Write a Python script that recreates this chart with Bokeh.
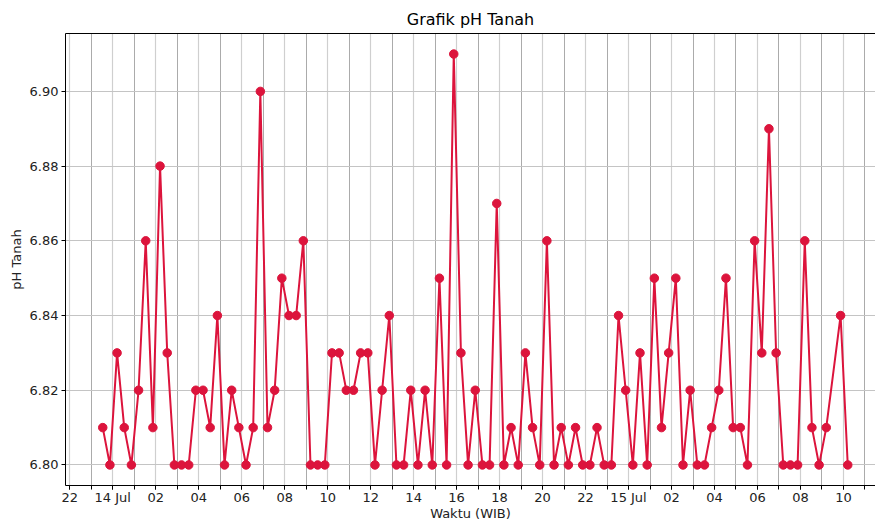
import pandas as pd
from bokeh.plotting import figure
from bokeh.models import Range1d, FixedTicker, CustomJSTickFormatter, LinearAxis, NumeralTickFormatter
from bokeh.embed import file_html
from bokeh.resources import INLINE

# ---- data (timestamps WIB, 20-minute sampling) ----
times = [
    "2024-07-13 23:32", "2024-07-13 23:52",
    "2024-07-14 00:12", "2024-07-14 00:32", "2024-07-14 00:52",
    "2024-07-14 01:12", "2024-07-14 01:32", "2024-07-14 01:52",
    "2024-07-14 02:12", "2024-07-14 02:32", "2024-07-14 02:52",
    "2024-07-14 03:12", "2024-07-14 03:32", "2024-07-14 03:52",
    "2024-07-14 04:12", "2024-07-14 04:32", "2024-07-14 04:52",
    "2024-07-14 05:12", "2024-07-14 05:32", "2024-07-14 05:52",
    "2024-07-14 06:12", "2024-07-14 06:32", "2024-07-14 06:52",
    "2024-07-14 07:12", "2024-07-14 07:32", "2024-07-14 07:52",
    "2024-07-14 08:12", "2024-07-14 08:32", "2024-07-14 08:52",
    "2024-07-14 09:12", "2024-07-14 09:32", "2024-07-14 09:52",
    "2024-07-14 10:12", "2024-07-14 10:32", "2024-07-14 10:52",
    "2024-07-14 11:12", "2024-07-14 11:32", "2024-07-14 11:52",
    "2024-07-14 12:12", "2024-07-14 12:32", "2024-07-14 12:52",
    "2024-07-14 13:12", "2024-07-14 13:32", "2024-07-14 13:52",
    "2024-07-14 14:12", "2024-07-14 14:32", "2024-07-14 14:52",
    "2024-07-14 15:12", "2024-07-14 15:32", "2024-07-14 15:52",
    "2024-07-14 16:12", "2024-07-14 16:32", "2024-07-14 16:52",
    "2024-07-14 17:12", "2024-07-14 17:32", "2024-07-14 17:52",
    "2024-07-14 18:12", "2024-07-14 18:32", "2024-07-14 18:52",
    "2024-07-14 19:12", "2024-07-14 19:32", "2024-07-14 19:52",
    "2024-07-14 20:12", "2024-07-14 20:32", "2024-07-14 20:52",
    "2024-07-14 21:12", "2024-07-14 21:32", "2024-07-14 21:52",
    "2024-07-14 22:12", "2024-07-14 22:32", "2024-07-14 22:52",
    "2024-07-14 23:12", "2024-07-14 23:32", "2024-07-14 23:52",
    "2024-07-15 00:12", "2024-07-15 00:32", "2024-07-15 00:52",
    "2024-07-15 01:12", "2024-07-15 01:32", "2024-07-15 01:52",
    "2024-07-15 02:12", "2024-07-15 02:32", "2024-07-15 02:52",
    "2024-07-15 03:12", "2024-07-15 03:32", "2024-07-15 03:52",
    "2024-07-15 04:12", "2024-07-15 04:32", "2024-07-15 04:52",
    "2024-07-15 05:12", "2024-07-15 05:32", "2024-07-15 05:52",
    "2024-07-15 06:12", "2024-07-15 06:32", "2024-07-15 06:52",
    "2024-07-15 07:12", "2024-07-15 07:32", "2024-07-15 07:52",
    "2024-07-15 08:12", "2024-07-15 08:32", "2024-07-15 08:52",
    "2024-07-15 09:12",
    "2024-07-15 09:52", "2024-07-15 10:12",
]

ph_values = [
    6.81, 6.80, 6.83, 6.81, 6.80, 6.82, 6.86, 6.81, 6.88, 6.83,
    6.80, 6.80, 6.80, 6.82, 6.82, 6.81, 6.84, 6.80, 6.82, 6.81,
    6.80, 6.81, 6.90, 6.81, 6.82, 6.85, 6.84, 6.84, 6.86, 6.80,
    6.80, 6.80, 6.83, 6.83, 6.82, 6.82, 6.83, 6.83, 6.80, 6.82,
    6.84, 6.80, 6.80, 6.82, 6.80, 6.82, 6.80, 6.85, 6.80, 6.91,
    6.83, 6.80, 6.82, 6.80, 6.80, 6.87, 6.80, 6.81, 6.80, 6.83,
    6.81, 6.80, 6.86, 6.80, 6.81, 6.80, 6.81, 6.80, 6.80, 6.81,
    6.80, 6.80, 6.84, 6.82, 6.80, 6.83, 6.80, 6.85, 6.81, 6.83,
    6.85, 6.80, 6.82, 6.80, 6.80, 6.81, 6.82, 6.85, 6.81, 6.81,
    6.80, 6.86, 6.83, 6.89, 6.83, 6.80, 6.80, 6.80, 6.86, 6.81,
    6.80, 6.81, 6.84, 6.80,
]

y_tick_values = [6.80, 6.82, 6.84, 6.86, 6.88, 6.90]

title_text = "Grafik pH Tanah"
x_label = "Waktu (WIB)"
y_label = "pH Tanah"

# ---- build ----
t = pd.to_datetime(times)
span = t[-1] - t[0]
pad = span * 0.05
x_start = t[0] - pad
x_end = t[-1] + pad * 0.745   # right edge of the axes is cut off in the reference

ymin, ymax = min(ph_values), max(ph_values)
ypad = (ymax - ymin) * 0.05

FONT = "DejaVu Sans"

p = figure(
    width=875, height=523,
    x_axis_type="datetime",
    output_backend="svg",
    toolbar_location=None,
    title=title_text,
    x_range=Range1d(x_start, x_end),
    y_range=Range1d(ymin - ypad, ymax + ypad),
    min_border_left=65, min_border_right=0,
    min_border_top=33, min_border_bottom=37,
)

p.background_fill_color = "white"
p.border_fill_color = "white"
p.outline_line_color = None

p.title.text_font = FONT
p.title.text_font_size = "16px"
p.title.text_font_style = "normal"
p.title.text_color = "black"
p.title.align = "center"
p.title.offset = 7

# x ticks: major every 2 h, minor every hour
to_ms = lambda idx: [int(v.value // 10**6) for v in idx]
major = pd.date_range(x_start.floor("2h"), x_end.ceil("2h"), freq="2h")
minor = pd.date_range(x_start.floor("1h"), x_end.ceil("1h"), freq="1h")
p.xaxis.ticker = FixedTicker(ticks=to_ms(major), minor_ticks=to_ms(minor))
p.xaxis.formatter = CustomJSTickFormatter(code="""
    const d = new Date(tick);
    const h = d.getUTCHours();
    const m = ["Jan","Feb","Mar","Apr","May","Jun","Jul","Aug","Sep","Oct","Nov","Dec"];
    if (h === 0) { return d.getUTCDate() + " " + m[d.getUTCMonth()]; }
    return (h < 10 ? "0" : "") + h;
""")
p.yaxis.ticker = FixedTicker(ticks=y_tick_values)
p.yaxis.formatter = NumeralTickFormatter(format="0.00")

for ax in (p.xaxis[0], p.yaxis[0]):
    ax.axis_line_color = "black"
    ax.axis_line_width = 1
    ax.major_tick_line_color = "black"
    ax.minor_tick_line_color = "black"
    ax.major_tick_in = 0
    ax.major_tick_out = 4
    ax.minor_tick_in = 0
    ax.minor_tick_out = 4
    ax.major_label_text_font = FONT
    ax.major_label_text_font_size = "13px"
    ax.major_label_text_color = "#222222"
    ax.axis_label_text_font = FONT
    ax.axis_label_text_font_size = "13px"
    ax.axis_label_text_font_style = "normal"
    ax.axis_label_text_color = "#222222"

p.xaxis.major_label_standoff = 0
p.xaxis.axis_label_standoff = -2
p.yaxis.minor_tick_line_color = None
p.yaxis.major_label_standoff = 3
p.yaxis.axis_label_standoff = 3
p.xaxis.axis_label = x_label
p.yaxis.axis_label = y_label

# top spine
top = LinearAxis(ticker=FixedTicker(ticks=[]), axis_line_color="black",
                 major_label_text_font_size="0px", major_tick_line_color=None,
                 minor_tick_line_color=None)
p.add_layout(top, "above")

# grids
p.xgrid.grid_line_color = "#cfcfcf"
p.xgrid.grid_line_width = 1.2
p.xgrid.minor_grid_line_color = "#ababab"
p.xgrid.minor_grid_line_width = 1
p.ygrid.grid_line_color = "#c4c4c4"
p.ygrid.grid_line_width = 1.2

p.line(t, ph_values, line_color="crimson", line_width=2)
p.scatter(t, ph_values, size=8.5, fill_color="crimson", line_color="crimson")

open("out.html", "w").write(file_html(p, INLINE))
